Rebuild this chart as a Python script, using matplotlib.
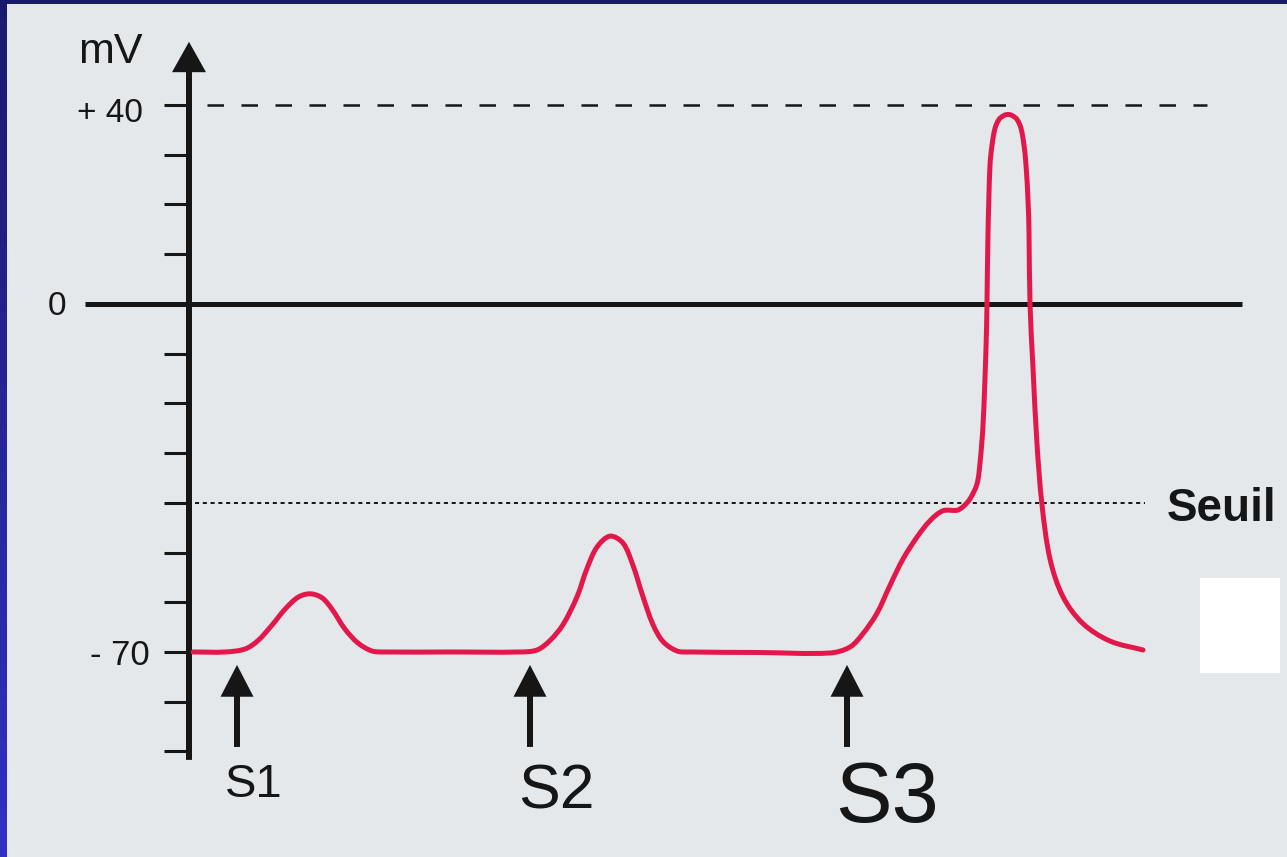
import numpy as np
import matplotlib
matplotlib.use("Agg")
import matplotlib.pyplot as plt
from matplotlib.patches import Rectangle, PathPatch
from matplotlib.path import Path

plt.rcParams['font.family'] = ['Liberation Sans', 'DejaVu Sans']

# Membrane potential recording: time (arbitrary units) and potential (mV)
time = [0.4, 3.6, 5.6, 6.9, 8.3, 9.6, 10.9, 12.1, 13.3, 14.3, 15.6, 16.9, 18.3, 19.6,
        26.1, 33.1, 34.8, 36.1, 37.4, 38.8, 39.8, 40.8, 42.1, 43.4, 44.4, 45.4,
        46.4, 47.4, 48.8, 50.1,
        57.0, 64.1, 66.1, 67.4, 68.8, 70.1, 71.4, 72.8, 74.1, 75.4, 76.8, 77.4,
        78.1, 78.8, 79.1, 79.4, 79.7, 79.8, 79.9, 80.1, 80.3, 80.6, 81.0, 81.5,
        81.9, 82.3, 82.8, 83.2, 83.5, 83.7, 83.9, 84.0, 84.1, 84.4, 84.8, 85.3,
        86.1, 87.4, 89.4, 92.1, 95.4]
potential = [-70, -70, -69.4, -67.7, -64.6, -61.4, -59.0, -58.3, -59.1, -61.4, -65.4, -68.2, -69.8, -70,
             -70, -70, -69.6, -67.7, -64.5, -58.9, -53.2, -48.9, -46.7, -48.1, -52.6, -58.9,
             -64.5, -67.9, -69.8, -70,
             -70.1, -70.2, -69.0, -66.3, -62.2, -56.6, -51.3, -46.9, -43.6, -41.6, -41.5, -40.8,
             -39.2, -36.2, -32.0, -24.4, -8.9, 0.4, 14.3, 27.9, 31.9, 35.3, 37.1, 37.9,
             38.1, 37.9, 37.1, 35.3, 31.9, 27.9, 20.9, 14.3, 0.0, -12.8, -28.2, -40.4,
             -51.3, -58.9, -64.3, -67.8, -69.6]

THRESHOLD = -40          # "Seuil"
PEAK_REF = 40            # +40 mV reference
tick_values = [40, 30, 20, 10, -10, -20, -30, -40, -50, -60, -70, -80, -90]
stim_labels = ['S1', 'S2', 'S3']
stim_times = [4.8, 34.1, 65.8]
stim_sizes = [34, 45, 61]
stim_baselines = [-99.2, -101.4, -104.2]

W, H = 1287, 857
fig = plt.figure(figsize=(W / 100, H / 100), dpi=100)

# blue frame with a vertical gradient
bg = fig.add_axes([0, 0, 1, 1])
grad = np.linspace(0, 1, 256)[:, None]
top = np.array([0x1a, 0x1a, 0x6c]) / 255
bot = np.array([0x30, 0x30, 0xc4]) / 255
img = top[None, None, :] * (1 - grad[..., None]) + bot[None, None, :] * grad[..., None]
bg.imshow(img, aspect='auto', extent=[0, 1, 0, 1])
bg.set_axis_off()

# plotting area
ax = fig.add_axes([7 / W, 0, 1 - 7 / W, 1 - 4 / H])
ax.set_facecolor('#e4e8eb')
ax.set_xlim(-18.2, 109.8)
ax.set_ylim(-111.23, 60.31)
ax.set_xticks([])
ax.set_yticks([])
for s in ax.spines.values():
    s.set_visible(False)

ink = '#161616'

# reference lines
ax.plot([-10.4, 105.3], [0, 0], color=ink, lw=3.6, solid_capstyle='butt', zorder=3)
ax.plot([1.8, 101.8], [PEAK_REF, PEAK_REF], color=ink, lw=1.8,
        dashes=(6.6, 7.0), zorder=2)
ax.plot([0.6, 95.6], [THRESHOLD, THRESHOLD], color=ink, lw=1.4,
        dashes=(2.1, 1.9), zorder=2)

# vertical axis with arrow head and ticks
ax.arrow(0, -91.7, 0, 144.4, width=0.6, head_width=3.4, head_length=6.1,
         length_includes_head=True, color=ink, lw=0, zorder=4)
ax.hlines(tick_values, -2.5, 0, color=ink, lw=2.2, zorder=3)

ax.text(-4.6, 36.6, '+ 40', fontsize=24, ha='right', va='baseline', color=ink)
ax.text(-12.3, -2.2, '0', fontsize=24, ha='right', va='baseline', color=ink)
ax.text(-3.9, -72.6, '- 70', fontsize=25, ha='right', va='baseline', color=ink)
ax.text(-4.6, 48.4, 'mV', fontsize=31, ha='right', va='baseline', color=ink)
ax.text(97.8, -43.6, 'Seuil', fontsize=33, fontweight='bold', ha='left',
        va='baseline', color=ink)

# stimulus arrows
for t, lab, fs, yb in zip(stim_times, stim_labels, stim_sizes, stim_baselines):
    ax.arrow(t, -89.1, 0, 16.5, width=0.6, head_width=3.3, head_length=6.4,
             length_includes_head=True, color=ink, lw=0, zorder=4)
    ax.text(t - 1.2, yb, lab, fontsize=fs, ha='left', va='baseline', color=ink)


def smooth_path(x, y, sx=10.0, sy=4.97):
    """Cubic Bezier path passing through every (x, y) point, with
    chord-length tangents computed in a display-like scaled space."""
    P = np.column_stack([np.asarray(x) * sx, np.asarray(y) * sy])
    n = len(P)
    d = np.linalg.norm(np.diff(P, axis=0), axis=1)
    tang = np.zeros_like(P)
    for i in range(n):
        if i == 0:
            tang[i] = (P[1] - P[0]) / d[0]
        elif i == n - 1:
            tang[i] = (P[-1] - P[-2]) / d[-1]
        else:
            tang[i] = (P[i + 1] - P[i - 1]) / (d[i - 1] + d[i])
    verts = [P[0]]
    codes = [Path.MOVETO]
    for i in range(n - 1):
        c1 = P[i] + tang[i] * d[i] / 3
        c2 = P[i + 1] - tang[i + 1] * d[i] / 3
        verts += [c1, c2, P[i + 1]]
        codes += [Path.CURVE4] * 3
    verts = np.array(verts) / np.array([sx, sy])
    return Path(verts, codes)


# membrane potential trace
trace = PathPatch(smooth_path(time, potential), facecolor='none',
                  edgecolor='#e3184a', lw=3.6, joinstyle='round',
                  capstyle='round', zorder=5)
ax.add_patch(trace)

# blank label patch on the right
ax.add_patch(Rectangle((101.1, -74.2), 8.0, 19.1, facecolor='white',
                       edgecolor='none', zorder=1))

fig.savefig('out.png', dpi=100)
